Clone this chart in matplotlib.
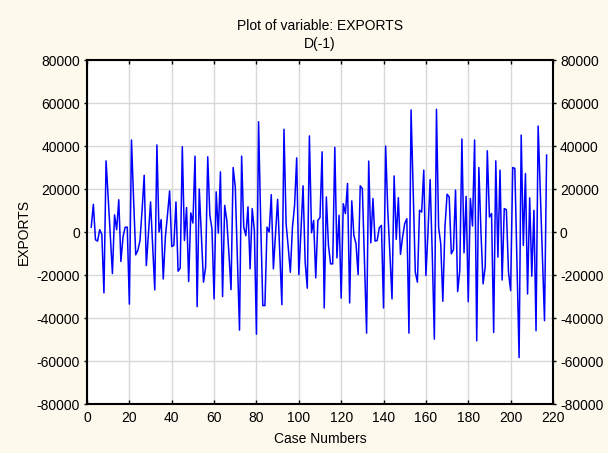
import matplotlib
matplotlib.use("Agg")
import matplotlib.pyplot as plt
import numpy as np

plt.rcParams['font.family'] = ['Liberation Sans', 'DejaVu Sans']

case_start = 2
values = [
    2300, 12900, -3600, -4200, 1100, -1100, -28300, 33100, 16000, -2000,
    -19300, 8000, 1100, 15000, -13700, -2300, 2200, 2300, -33500, 42800,
    15000, -10600, -8500, -4000, 10000, 26400, -15600, -1000, 14000, -6000,
    -26900, 40500, 0, 5800, -21800, -2300, 8000, 19100, -6700, -6200,
    14000, -18200, -16800, 39700, -3900, 11400, -23000, 8900, 4200, 35300,
    -34700, 20000, -2000, -23300, -16300, 35000, 7800, 1500, -31100, 18700,
    -500, 28000, -30000, 12400, 5400, -10000, -26800, 30000, 21000, -12000,
    -45600, 35300, 2300, -1700, 11700, -17100, 10900, 800, -47500, 51300,
    5000, -34200, -34200, 2300, 0, 17400, -17100, -1000, 15200, -9000,
    -33800, 47800, 3900, -7000, -18700, 2300, 12400, 34500, -19800, 0,
    21500, -14000, -26100, 44700, -300, 5400, -21300, 5400, 6700, 37300,
    -35300, 16300, -6200, -14800, -14800, 39400, -12000, 7800, -30700, 13200,
    8600, 22600, -33000, 14500, -1600, -5400, -19800, 21500, 20200, -13000,
    -47000, 33000, -5000, 15600, -4200, -3900, 2000, 3100, -35300, 40000,
    10000, -10000, -31100, 26100, -3400, 16000, -10400, -2300, 3900, 6200,
    -47000, 56800, 20000, -18700, -23300, 10100, 9300, 28800, -20200, 0,
    24400, -10000, -49800, 57100, 2300, -5400, -32200, 2300, 17600, 16300,
    -10100, -8200, 19500, -27700, -17900, 43300, -9600, 16600, -32400, 15600,
    2800, 42800, -50600, 30000, 0, -24100, -16300, 37800, 7000, 8600,
    -46700, 33100, -11700, 28800, -22300, 10900, 10400, -18700, -27200, 30000,
    29600, -15000, -58400, 45100, -6200, 27200, -28800, 15900, -20500, 10100,
    -45900, 49300, 19000, -11000, -41200, 35800,
]
cases = np.arange(case_start, case_start + len(values))

x_ticks = list(range(0, 221, 20))
y_ticks = list(range(-80000, 80001, 20000))

bg = '#FDF9EC'
fig = plt.figure(figsize=(6.08, 4.53), dpi=100, facecolor=bg)
ax = fig.add_axes([0.1431, 0.108, 0.7664, 0.7595])
ax.set_facecolor('white')

ax.plot(cases, values, color='#0000FF', lw=1.1)

ax.set_xlim(0, 220)
ax.set_ylim(-80000, 80000)
ax.set_xticks(x_ticks)
ax.set_yticks(y_ticks)
ax.set_xticklabels([str(t) for t in x_ticks])
ax.set_yticklabels([str(t) for t in y_ticks])
ax.grid(True, color='#D8D8D8', lw=1.0)
ax.set_axisbelow(True)

for s in ax.spines.values():
    s.set_linewidth(1.5)
    s.set_color('black')

ax.tick_params(axis='x', direction='in', top=True, length=3, width=1, labelsize=10, pad=5)
ax.tick_params(axis='y', direction='out', right=True, labelright=True, length=2, width=1, labelsize=10, pad=3)

ax.set_xlabel('Case Numbers', fontsize=10, labelpad=5)
ax.set_ylabel('EXPORTS', fontsize=10, labelpad=4)

fig.text(0.5 * (0.1431 + 0.9095), 1 - 26 / 453, 'Plot of variable: EXPORTS', ha='center', va='center', fontsize=10)
fig.text(0.5 * (0.1431 + 0.9095), 1 - 44 / 453, 'D(-1)', ha='center', va='center', fontsize=10)

fig.savefig('out.png', dpi=100, facecolor=bg)
